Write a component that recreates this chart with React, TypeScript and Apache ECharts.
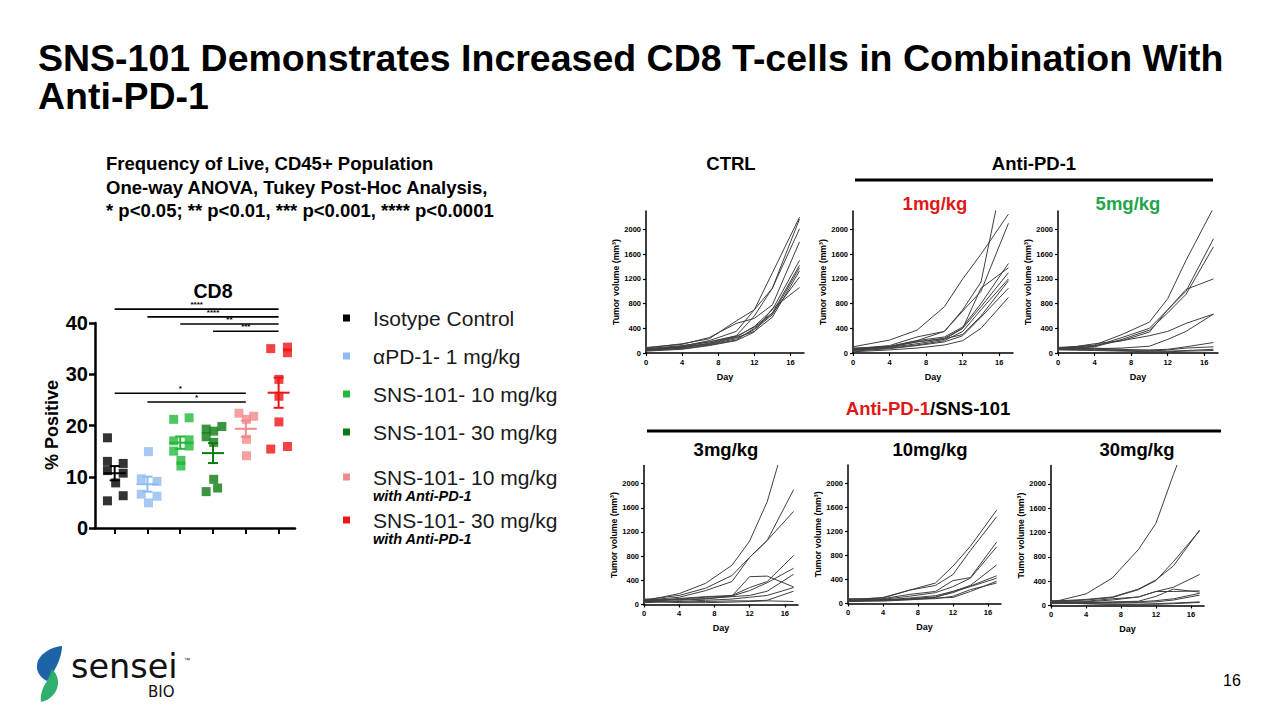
import React, { useEffect, useRef } from 'react';
import * as echarts from 'echarts';

const FONT = '"Liberation Sans", Arial, Helvetica, sans-serif';

// ---------- CD8 scatter data ----------
const groupNames = ['Isotype Control', 'αPD-1- 1 mg/kg', 'SNS-101- 10 mg/kg', 'SNS-101- 30 mg/kg', 'SNS-101- 10 mg/kg', 'SNS-101- 30 mg/kg'];
const groupSubNames = ['', '', '', '', 'with Anti-PD-1', 'with Anti-PD-1'];
const groupColors = ['#000000', '#8EBBEF', '#22B83A', '#0B7A12', '#F28A8A', '#EE1414'];

const cd8Isotype = [17.6, 13.0, 12.6, 11.2, 10.7, 8.8, 6.3, 5.3];
const cd8IsotypeJitter = [-0.22, -0.22, 0.26, -0.22, 0.26, 0.03, 0.26, -0.22];
const cd8AntiPD1 = [14.9, 9.6, 9.1, 6.6, 6.2, 4.9];
const cd8AntiPD1Jitter = [0.03, -0.19, 0.29, -0.19, 0.29, 0.03];
const cd8Sns10 = [21.2, 21.5, 17.0, 15.0, 17.2, 16.0, 13.2, 12.1];
const cd8Sns10Jitter = [-0.2, 0.27, -0.2, -0.2, 0.27, 0.27, 0.02, 0.02];
const cd8Sns30 = [19.3, 19.8, 18.9, 17.8, 16.7, 9.5, 7.1, 7.8];
const cd8Sns30Jitter = [-0.21, 0.27, 0.02, -0.21, 0.02, 0.02, -0.21, 0.14];
const cd8Sns10Combo = [22.4, 21.8, 21.2, 17.3, 14.1];
const cd8Sns10ComboJitter = [-0.21, 0.24, 0.02, 0.02, 0.02];
const cd8Sns30Combo = [35.0, 35.3, 34.2, 29.0, 25.7, 20.7, 15.4, 15.9];
const cd8Sns30ComboJitter = [-0.24, 0.27, 0.27, 0.01, 0.01, 0.01, -0.24, 0.27];

const cd8Values = [cd8Isotype, cd8AntiPD1, cd8Sns10, cd8Sns30, cd8Sns10Combo, cd8Sns30Combo];
const cd8Jitters = [cd8IsotypeJitter, cd8AntiPD1Jitter, cd8Sns10Jitter, cd8Sns30Jitter, cd8Sns10ComboJitter, cd8Sns30ComboJitter];

// significance brackets: [fromGroup, toGroup, yValue, label]
const sigBrackets: [number, number, number, string][] = [
  [0, 5, 42.7, '****'],
  [1, 5, 41.2, '****'],
  [2, 5, 39.8, '**'],
  [3, 5, 38.4, '***'],
  [0, 4, 26.3, '*'],
  [1, 4, 24.6, '*'],
];

const cd8YTicks = [0, 10, 20, 30, 40];

// ---------- Tumor growth data ----------
const days = [0, 4, 7, 10, 12, 14, 17];
const dayTicks = [0, 4, 8, 12, 16];
const volumeTicks = [0, 400, 800, 1200, 1600, 2000];

const ctrlVolumes = [
  [60, 110, 200, 350, 700, 1300, 2200],
  [80, 150, 230, 520, 700, 1050, 2170],
  [50, 100, 180, 280, 600, 1050, 2010],
  [90, 140, 250, 480, 560, 780, 1800],
  [40, 80, 160, 260, 430, 700, 1500],
  [70, 120, 180, 270, 420, 650, 1420],
  [50, 90, 140, 230, 380, 620, 1380],
  [60, 100, 150, 250, 350, 580, 1330],
  [40, 70, 130, 210, 400, 640, 1230],
  [30, 60, 120, 200, 340, 720, 1060],
];
const pd1Low = [
  [100, 210, 370, 750, 1200, 1600, 2250],
  [70, 120, 260, 350, 700, 1150, 3300],
  [50, 100, 200, 350, 680, 1000, 2100],
  [60, 110, 200, 260, 420, 800, 1450],
  [80, 100, 180, 240, 400, 1050, 1380],
  [50, 90, 150, 220, 400, 750, 1300],
  [40, 80, 130, 200, 350, 700, 1200],
  [60, 100, 180, 230, 300, 600, 1170],
  [30, 70, 120, 180, 280, 580, 1050],
  [20, 50, 80, 130, 200, 400, 900],
];
const pd1High = [
  [80, 130, 300, 500, 880, 1500, 2350],
  [60, 110, 250, 400, 700, 1000, 1850],
  [70, 100, 220, 370, 650, 950, 1720],
  [90, 120, 200, 340, 700, 1030, 1200],
  [60, 150, 200, 280, 350, 480, 630],
  [80, 70, 80, 110, 220, 350, 630],
  [70, 60, 50, 50, 60, 100, 170],
  [60, 50, 40, 30, 50, 80, 100],
  [50, 40, 30, 20, 20, 30, 40],
  [90, 80, 60, 40, 30, 40, 60],
];
const combo3 = [
  [60, 180, 350, 650, 1050, 1700, 3200],
  [80, 150, 270, 480, 780, 1060, 1900],
  [70, 120, 230, 380, 780, 1060, 1540],
  [50, 100, 130, 150, 280, 380, 810],
  [40, 90, 120, 140, 230, 360, 600],
  [90, 70, 90, 140, 460, 470, 290],
  [60, 80, 100, 130, 150, 220, 500],
  [30, 50, 70, 90, 120, 150, 280],
  [50, 40, 50, 60, 60, 70, 220],
  [70, 30, 30, 40, 50, 60, 50],
];
const combo10 = [
  [60, 100, 220, 340, 620, 950, 1550],
  [70, 90, 220, 300, 480, 880, 1440],
  [50, 80, 150, 200, 380, 430, 1020],
  [80, 70, 120, 180, 280, 420, 940],
  [40, 60, 90, 130, 200, 300, 640],
  [60, 50, 80, 110, 180, 290, 460],
  [50, 60, 70, 100, 200, 280, 420],
  [40, 40, 60, 90, 100, 200, 370],
  [30, 50, 70, 80, 120, 230, 340],
];
const combo30 = [
  [50, 190, 450, 920, 1350, 2150, 3300],
  [70, 100, 140, 270, 420, 650, 1240],
  [60, 90, 130, 260, 410, 720, 1230],
  [80, 70, 110, 140, 230, 300, 510],
  [40, 60, 90, 140, 230, 230, 240],
  [60, 50, 60, 70, 150, 270, 220],
  [30, 40, 50, 60, 80, 110, 200],
  [70, 50, 40, 50, 60, 90, 170],
  [50, 30, 20, 20, 30, 40, 60],
  [40, 30, 20, 20, 20, 30, 50],
];
const panelVolumes = [ctrlVolumes, pd1Low, pd1High, combo3, combo10, combo30];

// ---------- layout (positions only) ----------
const scatterGrid = { left: 95, top: 323, width: 200, height: 205 };
const panelGrids = [
  { left: 646, top: 211, width: 158, height: 142 },
  { left: 853, top: 211, width: 160, height: 142 },
  { left: 1058, top: 211, width: 160, height: 142 },
  { left: 644, top: 465.5, width: 154, height: 139 },
  { left: 848, top: 465, width: 153, height: 138.5 },
  { left: 1051, top: 465.5, width: 153, height: 140 },
];
const legendY = [318, 356, 394, 432, 477, 520];
const legendSubY = [0, 0, 0, 0, 496, 539];

echarts.graphic.registerShape(
  'senseiBlue',
  echarts.graphic.extendPath('M62,646 C50,647 38,655 37,665 C36,672 41,678 47,681 L54,671 C58,664 62,655 62,646 Z', {})
);
echarts.graphic.registerShape(
  'senseiGreen',
  echarts.graphic.extendPath('M52,669 C58,675 60,683 56,691 C52,698 46,701 41,702 C40,696 42,688 47,681 Z', {})
);

function mean(a: number[]) {
  return a.reduce((s, v) => s + v, 0) / a.length;
}
function sem(a: number[]) {
  const m = mean(a);
  const v = a.reduce((s, x) => s + (x - m) * (x - m), 0) / (a.length - 1);
  return Math.sqrt(v / a.length);
}

function txt(text: string, x: number, y: number, size: number, opts: any = {}) {
  return {
    type: 'text',
    x,
    y,
    rotation: opts.rotation || 0,
    style: {
      text,
      fill: opts.color || '#000',
      fontSize: size,
      fontWeight: opts.weight || 'bold',
      fontStyle: opts.italic ? 'italic' : 'normal',
      fontFamily: opts.family || FONT,
      align: opts.align || 'left',
      verticalAlign: 'middle',
      rich: opts.rich,
    },
  };
}

const plainNum = (v: number) => String(v);

function buildOption() {
  const grids: any[] = [scatterGrid, ...panelGrids];
  const xAxes: any[] = [];
  const yAxes: any[] = [];
  const series: any[] = [];

  // scatter axes
  xAxes.push({
    type: 'value',
    gridIndex: 0,
    min: -0.6,
    max: 5.5,
    axisLine: { show: true, lineStyle: { color: '#000', width: 2.5 } },
    axisTick: { show: true, length: 6, customValues: [0, 1, 2, 3, 4, 5], lineStyle: { color: '#000', width: 2 } },
    axisLabel: { show: false },
    splitLine: { show: false },
  });
  yAxes.push({
    type: 'value',
    gridIndex: 0,
    min: 0,
    max: 40,
    interval: 10,
    axisLine: { show: true, onZero: false, lineStyle: { color: '#000', width: 2.5 } },
    axisTick: { show: true, length: 6, lineStyle: { color: '#000', width: 2.5 } },
    axisLabel: { color: '#000', fontSize: 20, fontWeight: 'bold', fontFamily: FONT, margin: 7, customValues: cd8YTicks, formatter: plainNum },
    splitLine: { show: false },
  });

  cd8Values.forEach((vals, g) => {
    series.push({
      type: 'scatter',
      name: groupNames[g],
      xAxisIndex: 0,
      yAxisIndex: 0,
      symbol: 'rect',
      symbolSize: 9,
      itemStyle: { color: groupColors[g] },
      data: vals.map((v, k) => [g + cd8Jitters[g][k], v]),
      z: 2,
      silent: true,
    });
  });

  series.push({
    type: 'custom',
    xAxisIndex: 0,
    yAxisIndex: 0,
    z: 4,
    silent: true,
    data: cd8Values.map((vals, g) => [g, mean(vals), sem(vals)]),
    renderItem: (params: any, api: any) => {
      const g = api.value(0);
      const m = api.value(1);
      const s = api.value(2);
      const c = api.coord([g, m]);
      const t = api.coord([g, m + s]);
      const b = api.coord([g, m - s]);
      const col = groupColors[g];
      const st = { stroke: col, lineWidth: 2 };
      return {
        type: 'group',
        children: [
          { type: 'line', shape: { x1: c[0] - 11, y1: c[1], x2: c[0] + 11, y2: c[1] }, style: st },
          { type: 'line', shape: { x1: c[0], y1: t[1], x2: c[0], y2: b[1] }, style: st },
          { type: 'line', shape: { x1: c[0] - 5, y1: t[1], x2: c[0] + 5, y2: t[1] }, style: st },
          { type: 'line', shape: { x1: c[0] - 5, y1: b[1], x2: c[0] + 5, y2: b[1] }, style: st },
        ],
      };
    },
  });

  series.push({
    type: 'custom',
    xAxisIndex: 0,
    yAxisIndex: 0,
    clip: false,
    silent: true,
    z: 5,
    data: sigBrackets.map((b) => [b[0], b[1], b[2]]),
    renderItem: (params: any, api: any) => {
      const p1 = api.coord([api.value(0), api.value(2)]);
      const p2 = api.coord([api.value(1), api.value(2)]);
      const label = sigBrackets[params.dataIndex][3];
      return {
        type: 'group',
        children: [
          { type: 'line', shape: { x1: p1[0], y1: p1[1], x2: p2[0], y2: p2[1] }, style: { stroke: '#000', lineWidth: 1.6 } },
          {
            type: 'text',
            style: {
              text: label,
              x: (p1[0] + p2[0]) / 2,
              y: p1[1] - 0.5,
              align: 'center',
              verticalAlign: 'bottom',
              fontSize: 8,
              fontWeight: 'bold',
              fontFamily: FONT,
              fill: '#000',
            },
          },
        ],
      };
    },
  });

  // tumor panels
  panelVolumes.forEach((vols, p) => {
    const gi = p + 1;
    xAxes.push({
      type: 'value',
      gridIndex: gi,
      min: 0,
      max: 17.5,
      name: 'Day',
      nameLocation: 'middle',
      nameGap: 19,
      nameTextStyle: { color: '#000', fontSize: 9, fontWeight: 'bold', fontFamily: FONT },
      axisLine: { show: true, lineStyle: { color: '#000', width: 1.5 } },
      axisTick: { show: true, length: 3, customValues: dayTicks, lineStyle: { color: '#000', width: 1.2 } },
      axisLabel: { customValues: dayTicks, color: '#000', fontSize: 7.5, fontWeight: 'bold', fontFamily: FONT, margin: 5, formatter: plainNum },
      splitLine: { show: false },
    });
    yAxes.push({
      type: 'value',
      gridIndex: gi,
      min: 0,
      max: 2300,
      name: 'Tumor volume (mm³)',
      nameLocation: 'middle',
      nameGap: 24,
      nameTextStyle: { color: '#000', fontSize: 8.7, fontWeight: 'bold', fontFamily: FONT },
      axisLine: { show: true, onZero: false, lineStyle: { color: '#000', width: 1.5 } },
      axisTick: { show: true, length: 3, customValues: volumeTicks, lineStyle: { color: '#000', width: 1.2 } },
      axisLabel: { customValues: volumeTicks, color: '#000', fontSize: 7.5, fontWeight: 'bold', fontFamily: FONT, margin: 5, formatter: plainNum },
      splitLine: { show: false },
    });
    vols.forEach((line) => {
      series.push({
        type: 'line',
        xAxisIndex: gi,
        yAxisIndex: gi,
        data: days.map((d, k) => [d, line[k]]),
        showSymbol: false,
        symbol: 'none',
        silent: true,
        clip: true,
        lineStyle: { color: '#3f3f3f', width: 1 },
      });
    });
  });

  const graphics: any[] = [
    txt('SNS-101 Demonstrates Increased CD8 T-cells in Combination With', 38, 58, 37.5),
    txt('Anti-PD-1', 38, 96, 37.5),
    txt('Frequency of Live, CD45+ Population', 106, 163, 18.5),
    txt('One-way ANOVA, Tukey Post-Hoc Analysis,', 106, 187, 18.5),
    txt('* p<0.05; ** p<0.01, *** p<0.001, **** p<0.0001', 106, 210, 18.5),
    txt('CD8', 213, 291, 19.5, { align: 'center' }),
    txt('% Positive', 52, 425, 18, { align: 'center', rotation: Math.PI / 2 }),
    txt('CTRL', 731, 163, 18.5, { align: 'center' }),
    txt('Anti-PD-1', 1034, 163, 18.5, { align: 'center' }),
    { type: 'line', shape: { x1: 855, y1: 180, x2: 1213, y2: 180 }, style: { stroke: '#000', lineWidth: 3 } },
    txt('1mg/kg', 935, 203, 18.5, { align: 'center', color: '#E01818' }),
    txt('5mg/kg', 1128, 203, 18.5, { align: 'center', color: '#1FA54B' }),
    txt('{r|Anti-PD-1}{k|/SNS-101}', 928, 408, 18.5, {
      align: 'center',
      rich: {
        r: { fill: '#E01818', fontSize: 18.5, fontWeight: 'bold', fontFamily: FONT },
        k: { fill: '#000', fontSize: 18.5, fontWeight: 'bold', fontFamily: FONT },
      },
    }),
    { type: 'line', shape: { x1: 647, y1: 431, x2: 1221, y2: 431 }, style: { stroke: '#000', lineWidth: 3 } },
    txt('3mg/kg', 726, 449, 18.5, { align: 'center' }),
    txt('10mg/kg', 930, 449, 18.5, { align: 'center' }),
    txt('30mg/kg', 1137, 449, 18.5, { align: 'center' }),
    txt('16', 1232, 680, 16, { align: 'center', weight: 'normal' }),
    // logo
    { type: 'senseiBlue', x: 0, y: 0, style: { fill: '#1E63A8' } },
    { type: 'senseiGreen', x: 0, y: 0, style: { fill: '#20A862', opacity: 0.92 } },
    txt('sensei', 71, 666, 33.5, { weight: 'normal', family: '"DejaVu Sans", sans-serif', color: '#111' }),
    txt('BIO', 148, 692, 15, { weight: 'normal', family: '"DejaVu Sans", sans-serif', color: '#111' }),
    txt('™', 184, 660, 6, { weight: 'normal', color: '#111' }),
  ];

  groupNames.forEach((name, g) => {
    graphics.push({
      type: 'rect',
      shape: { x: 343, y: legendY[g] - 3.5, width: 7, height: 7 },
      style: { fill: groupColors[g] },
    });
    graphics.push(txt(name, 373, legendY[g], 21, { weight: 'normal', color: '#1a1a1a' }));
    if (groupSubNames[g]) {
      graphics.push(txt(groupSubNames[g], 373, legendSubY[g], 14.5, { italic: true, color: '#000' }));
    }
  });

  return {
    animation: false,
    backgroundColor: '#ffffff',
    textStyle: { fontFamily: FONT },
    grid: grids,
    xAxis: xAxes,
    yAxis: yAxes,
    series,
    graphic: graphics,
  };
}

export default function App() {
  const ref = useRef<HTMLDivElement>(null);
  useEffect(() => {
    if (!ref.current) return;
    const chart = echarts.init(ref.current, undefined, { renderer: 'svg' });
    chart.setOption(buildOption() as any);
    return () => chart.dispose();
  }, []);
  return (
    <div
      ref={ref}
      style={{ position: 'absolute', left: 0, top: 0, width: 1280, height: 720, background: '#fff' }}
    />
  );
}
